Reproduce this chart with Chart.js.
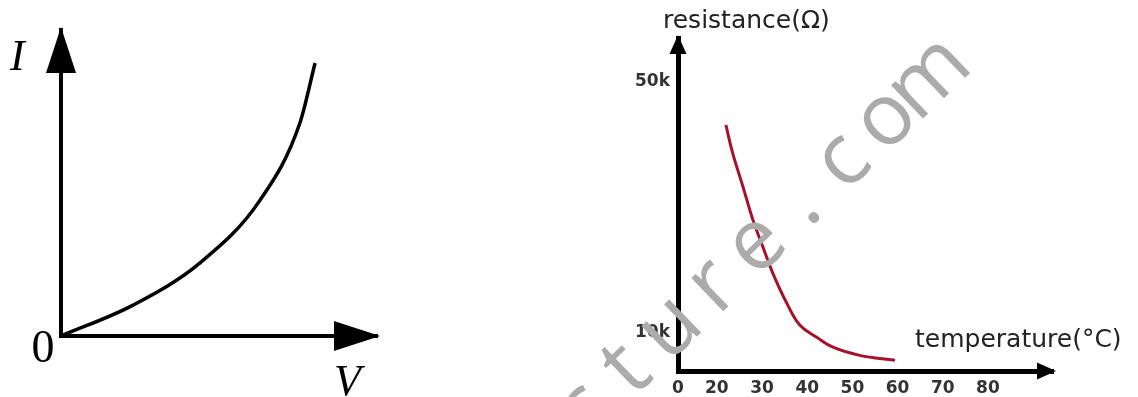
<!DOCTYPE html>
<html>
<head>
<meta charset="utf-8">
<script src="https://cdn.jsdelivr.net/npm/chart.js@4/dist/chart.umd.min.js"></script>
<style>
  body { margin: 0; background: #fff; width: 1138px; height: 397px; overflow: hidden; position: relative; }
  canvas { position: absolute; top: 0; }
  #iv { left: 0; }
  #thermistor { left: 560px; }
</style>
</head>
<body>
<canvas id="iv" width="420" height="397"></canvas>
<canvas id="thermistor" width="578" height="397"></canvas>
<script>
// left sketch: I against V, no units on a 0..10 grid
const voltage = [0, 2.28, 4.40, 6.30, 7.56, 8.04];
const current = [0, 1.01, 2.39, 4.44, 6.96, 8.92];

// right sketch: thermistor, resistance in k ohm
const temperature = [22.0, 23.5, 25.8, 28.0, 30.2, 32.4, 35.5, 38.4, 42.1, 45.7, 51.6, 59.4];
const resistance = [43.1, 38.6, 33.2, 27.9, 23.6, 19.4, 14.6, 11.1, 9.2, 7.6, 6.3, 5.5];
const tempTicks = [20, 30, 40, 50, 60, 70, 80];
const resTicks = [10, 50];
const tempMin = 11.4; // axis is broken, the origin is labelled "0"
const tempMax = 94.4;
const resMin = 3.8;
const resMax = 57;

const watermark = "cture.com";

function toPoints(xs, ys) {
  return xs.map((x, i) => ({ x: x, y: ys[i] }));
}

// arrow heads at the ends of both axes
function drawArrows(ctx, area, len, half, over) {
  ctx.save();
  ctx.fillStyle = "#000";
  ctx.beginPath();
  ctx.moveTo(area.left, area.top - over);
  ctx.lineTo(area.left - half, area.top + len);
  ctx.lineTo(area.left + half, area.top + len);
  ctx.closePath();
  ctx.fill();
  ctx.beginPath();
  ctx.moveTo(area.right + over, area.bottom);
  ctx.lineTo(area.right - len, area.bottom - half);
  ctx.lineTo(area.right - len, area.bottom + half);
  ctx.closePath();
  ctx.fill();
  ctx.restore();
}

const ivDecor = {
  id: "ivDecor",
  afterDraw(chart) {
    const ctx = chart.ctx;
    drawArrows(ctx, chart.chartArea, 43, 15, 3);
    ctx.save();
    ctx.fillStyle = "#000";
    ctx.textBaseline = "alphabetic";
    ctx.font = 'italic 44px "Liberation Serif"';
    ctx.textAlign = "left";
    ctx.fillText("I", 10, 70);
    ctx.fillText("V", 334, 395);
    ctx.font = '46px "Liberation Serif"';
    ctx.textAlign = "center";
    ctx.fillText("0", 43, 362);
    ctx.restore();
  }
};

const thermDecor = {
  id: "thermDecor",
  afterDraw(chart) {
    const ctx = chart.ctx;
    drawArrows(ctx, chart.chartArea, 16, 8.5, 3);
    ctx.save();
    ctx.fillStyle = "#222";
    ctx.textAlign = "left";
    ctx.textBaseline = "alphabetic";
    ctx.font = '25px "DejaVu Sans"';
    ctx.fillText("resistance(\u03a9)", 103, 28);
    ctx.fillText("temperature(\u00b0C)", 355, 347);
    // watermark across the picture, fixed pitch like a typewriter face
    ctx.translate(19.5, 450);
    ctx.rotate(-44 * Math.PI / 180);
    ctx.fillStyle = "#ababab";
    ctx.font = '86px "Open Sans"';
    ctx.textAlign = "center";
    for (let i = 0; i < watermark.length; i++) {
      ctx.fillText(watermark[i], (i + 0.5) * 60, 0);
    }
    ctx.restore();
  }
};

const hidden = { display: false, drawTicks: false };

new Chart("iv", {
  type: "line",
  data: {
    datasets: [
      {
        data: toPoints(voltage, current),
        borderColor: "#000",
        borderWidth: 3.5,
        pointRadius: 0,
        cubicInterpolationMode: "monotone",
        fill: false,
      },
    ],
  },
  options: {
    responsive: false,
    animation: false,
    layout: { padding: { left: 61, top: 30, right: 43, bottom: 61 } },
    plugins: { legend: { display: false }, tooltip: { enabled: false } },
    scales: {
      x: {
        type: "linear", min: 0, max: 10,
        grid: hidden, ticks: { display: false },
        border: { color: "#000", width: 4 },
        afterFit: s => { s.height = 0; },
      },
      y: {
        min: 0, max: 10,
        grid: hidden, ticks: { display: false },
        border: { color: "#000", width: 4 },
        afterFit: s => { s.width = 0; },
      },
    },
  },
  plugins: [ivDecor],
});

const tickFont = { family: "DejaVu Sans", size: 17, weight: "bold" };

new Chart("thermistor", {
  type: "line",
  data: {
    datasets: [
      {
        data: toPoints(temperature, resistance),
        borderColor: "#a8102a",
        borderWidth: 3,
        pointRadius: 0,
        tension: 0.4,
        fill: false,
      },
    ],
  },
  options: {
    responsive: false,
    animation: false,
    layout: { padding: { left: 58, top: 38, right: 85, bottom: 0 } },
    plugins: { legend: { display: false }, tooltip: { enabled: false } },
    scales: {
      x: {
        type: "linear", min: tempMin, max: tempMax,
        afterBuildTicks: s => { s.ticks = [tempMin].concat(tempTicks).map(v => ({ value: v })); },
        ticks: {
          autoSkip: false, maxRotation: 0, padding: 7, color: "#333", font: tickFont,
          callback: v => (v === tempMin ? "0" : v),
        },
        grid: hidden,
        border: { color: "#000", width: 5 },
        afterFit: s => { s.height = 26; },
      },
      y: {
        min: resMin, max: resMax,
        afterBuildTicks: s => { s.ticks = resTicks.map(v => ({ value: v })); },
        ticks: { padding: 8, color: "#333", font: tickFont, callback: v => v + "k" },
        grid: hidden,
        border: { color: "#000", width: 5 },
        afterFit: s => { s.width = 60; },
      },
    },
  },
  plugins: [thermDecor],
});
</script>
</body>
</html>
